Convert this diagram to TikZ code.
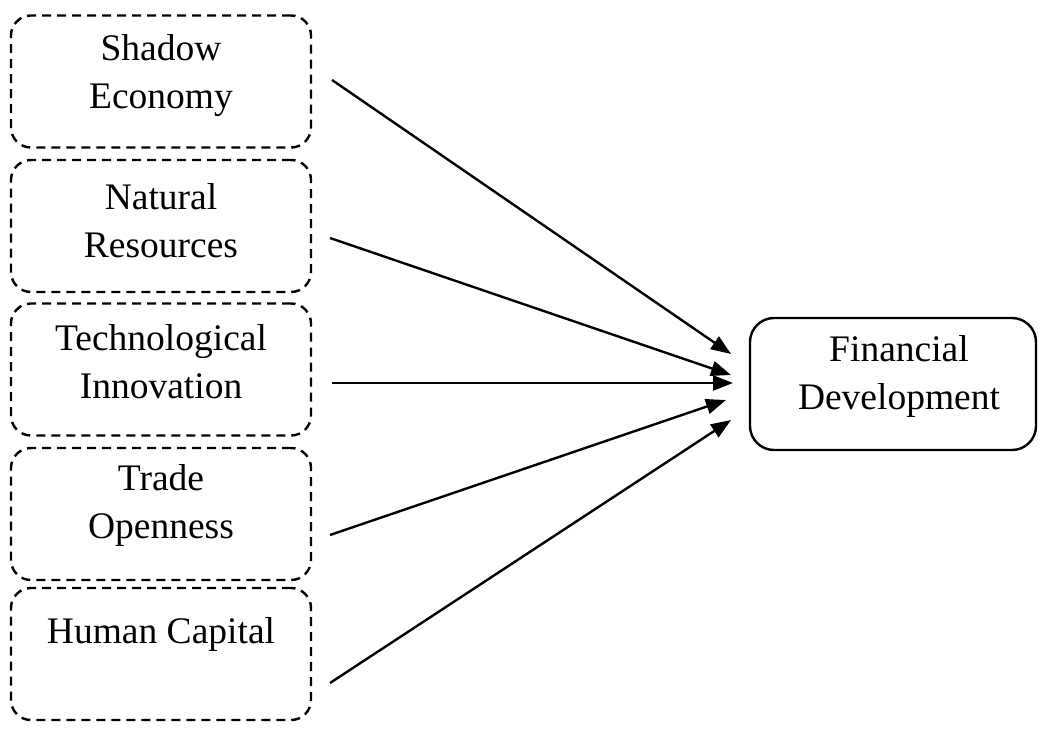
\documentclass[tikz,border=0pt]{standalone}
\usepackage{fontspec}
\setmainfont{Liberation Serif}
\usetikzlibrary{arrows.meta}
\tikzset{
  px/.style={x=1pt,y=-1pt},
  dbox/.style={draw, line width=2.4pt, dash pattern=on 9pt off 6pt, rounded corners=20pt, minimum width=300pt, minimum height=132pt, inner sep=0pt},
  sbox/.style={draw, line width=2.4pt, rounded corners=24pt, minimum width=286pt, minimum height=132pt, inner sep=0pt},
  lbl/.style={align=center, inner sep=0pt, font=\fontsize{37.5}{48}\selectfont},
  arr/.style={line width=2.4pt, -{Triangle[length=20pt,width=15pt]}}
}
\begin{document}
\begin{tikzpicture}[px]
\useasboundingbox (0,0) rectangle (1038,728);
\node[dbox] (b1) at (161,81.5) {};
\node[dbox] (b2) at (161,226) {};
\node[dbox] (b3) at (161,369.5) {};
\node[dbox] (b4) at (161,514) {};
\node[dbox] (b5) at (161,654) {};
\node[sbox] (fd) at (893,384) {};
\node[lbl] (t1) at (161,75.5) {Shadow\\Economy};
\node[lbl] (t2) at (161,221) {Natural\\Resources};
\node[lbl] (t3) at (161,361.5) {Technological\\Innovation};
\node[lbl] (t4) at (161,505.5) {Trade\\Openness};
\node[lbl] (t5) at (161,634) {Human Capital};
\node[lbl] (tf) at (899,376) {Financial\\Development};
\coordinate (s1) at (332,80);
\coordinate (s2) at (330,238);
\coordinate (s3) at (332,383);
\coordinate (s4) at (330,535);
\coordinate (s5) at (330,683);
\coordinate (e1) at (731,354);
\coordinate (e2) at (731,375);
\coordinate (e3) at (733,383);
\coordinate (e4) at (726,400);
\coordinate (e5) at (731,420);
\draw[arr] (s1) -- (e1);
\draw[arr] (s2) -- (e2);
\draw[arr] (s3) -- (e3);
\draw[arr] (s4) -- (e4);
\draw[arr] (s5) -- (e5);
\end{tikzpicture}
\end{document}
